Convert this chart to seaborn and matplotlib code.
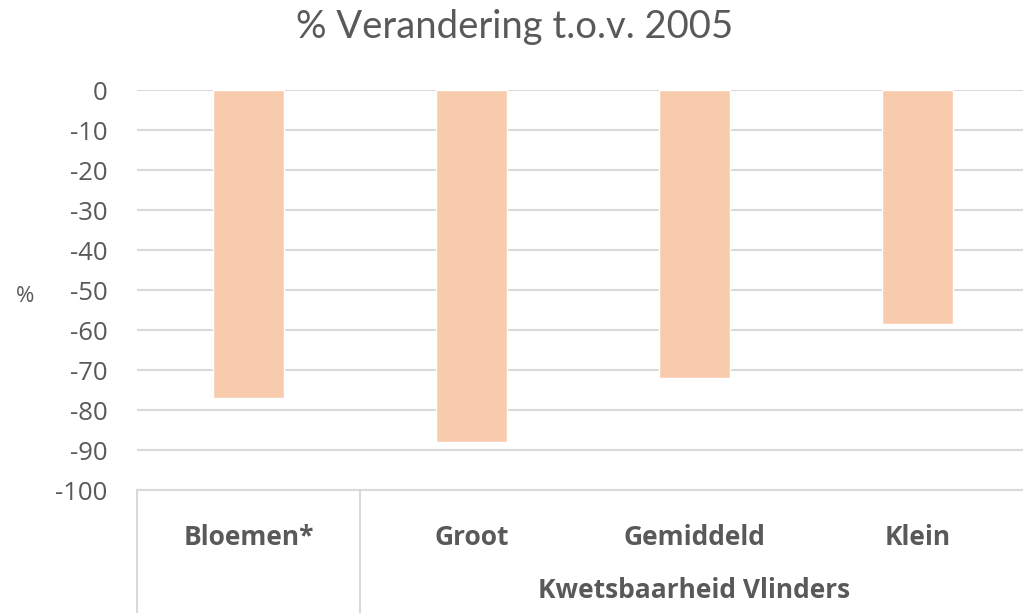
import matplotlib
matplotlib.use("Agg")
import matplotlib.pyplot as plt
import matplotlib.transforms as mtransforms
import pandas as pd
import seaborn as sns

categories = ["Bloemen*", "Groot", "Gemiddeld", "Klein"]
values = [-77, -88, -72, -58.5]
y_ticks = list(range(0, -101, -10))
title = "% Verandering t.o.v. 2005"
group_label = "Kwetsbaarheid Vlinders"

text_color = "#595959"
grid_color = "#D9D9D9"
bar_color = "#F8CBAD"

sns.set_style("white")
plt.rcParams["font.family"] = ["Open Sans", "DejaVu Sans"]

df = pd.DataFrame({"categorie": categories, "waarde": values})

fig = plt.figure(figsize=(10.23, 6.13), dpi=100)
ax = fig.add_axes([137 / 1023, 1 - 490 / 613, 892 / 1023, 400 / 613])

sns.barplot(data=df, x="categorie", y="waarde", color=bar_color,
            saturation=1, width=0.314, ax=ax, zorder=3)

ax.set_ylim(-100, 0)
ax.set_xlim(-0.5, 3.5)
ax.set_yticks(y_ticks)
ax.set_yticklabels([str(t) for t in y_ticks])
ax.yaxis.grid(True, color=grid_color, linewidth=1.5, zorder=0)
ax.set_axisbelow(True)

for side in ["top", "left", "right"]:
    ax.spines[side].set_visible(False)
ax.spines["bottom"].set_color(grid_color)
ax.spines["bottom"].set_linewidth(1.5)

ax.tick_params(axis="y", length=0, pad=21, labelsize=18.5, labelcolor=text_color)
ax.tick_params(axis="x", length=0, pad=24.5, labelsize=19, labelcolor=text_color)
for lbl in ax.get_xticklabels():
    lbl.set_fontweight("bold")

ax.set_xlabel("")
ax.set_ylabel("")
fig.text(25 / 1023, 1 - 296 / 613, "%", ha="center", va="center",
         fontsize=16, color=text_color)

fig.text(515 / 1023, 1 - 27 / 613, title, ha="center", va="center",
         fontsize=27.5, color=text_color, family=["Lato", "DejaVu Sans"])

# category separator lines below the axis
trans = mtransforms.blended_transform_factory(ax.transData, ax.transAxes)
for xpos in [-0.5, 0.5]:
    ax.plot([xpos, xpos], [0, -0.32], transform=trans, color=grid_color,
            linewidth=1.5, clip_on=False)

ax.text(2.0, -0.25, group_label, transform=trans, ha="center", va="center",
        fontsize=19, fontweight="bold", color=text_color)

fig.savefig("out.png", dpi=100)
